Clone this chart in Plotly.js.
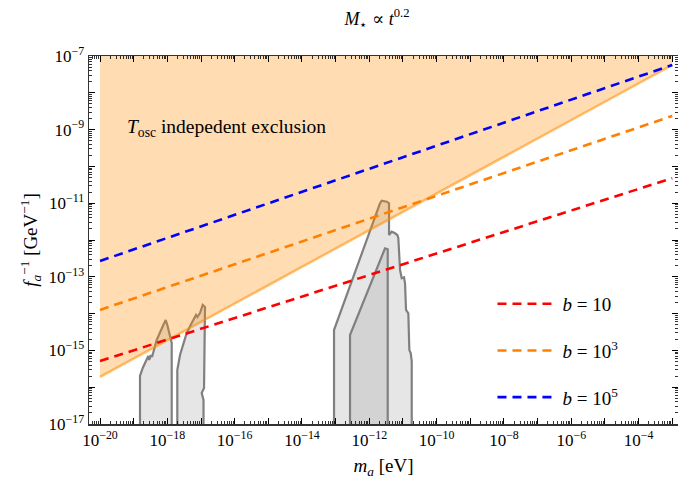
<!DOCTYPE html>
<html>
<head>
<meta charset="utf-8">
<script src="https://cdn.plot.ly/plotly-3.0.1.min.js"></script>
<style>html,body{margin:0;padding:0;background:#fff;}#plot{width:678px;height:489px;}</style>
</head>
<body>
<div id="plot"></div>
<script>
// ---- data (log10 values) ----
var massEnds = [-20, -3];                 // log10 m_a [eV] of line ends
var lineB10 = [-15.29, -10.32];           // log10 f_a^-1, b = 10
var lineB1e3 = [-13.90, -8.63];           // b = 10^3
var lineB1e5 = [-12.57, -7.245];          // b = 10^5
var exclEdge = [-15.72, -7.245];          // T_osc independent exclusion boundary

// gray constraint regions (log10 m_a, log10 f_a^-1)
var regAx = [-18.812,-18.812,-18.731,-18.613,-18.565,-18.535,-18.494,-18.455,-18.316,-18.119,-18.048,-18.001,-17.870,-17.870];
var regAy = [-17.5,-15.696,-15.478,-15.207,-15.152,-15.261,-15.125,-15.179,-14.717,-14.310,-14.174,-14.310,-14.799,-17.5];
var regBx = [-17.704,-17.704,-17.623,-17.424,-17.276,-17.148,-17.109,-17.029,-16.949,-16.881,-16.910,-16.979,-16.925,-16.925];
var regBy = [-17.5,-15.533,-15.125,-14.527,-14.255,-14.038,-14.092,-13.984,-13.766,-13.821,-16.022,-16.158,-16.348,-17.5];
var regCx = [-13.048,-13.048,-11.682,-11.631,-11.483,-11.414,-11.414,-11.334,-11.236,-11.167,-11.138,-11.087,-11.037,-10.969,-10.939,-10.909,-10.841,-10.811,-10.769,-10.740,-10.740];
var regCy = [-17.5,-14.446,-11.003,-10.932,-10.959,-11.003,-11.864,-11.774,-11.818,-11.864,-11.954,-12.815,-13.041,-13.014,-13.177,-13.902,-13.992,-14.989,-15.079,-15.3,-17.5];
var regDx = [-12.573,-12.573,-11.533,-11.453,-11.453];
var regDy = [-17.5,-14.582,-12.226,-12.253,-17.5];

var xDecades = [-20,-19,-18,-17,-16,-15,-14,-13,-12,-11,-10,-9,-8,-7,-6,-5,-4,-3];
var xTickLabeled = [-20,-18,-16,-14,-12,-10,-8,-6,-4];
var yDecades = [-17,-16,-15,-14,-13,-12,-11,-10,-9,-8,-7];
var yTickLabeled = [-17,-15,-13,-11,-9,-7];

// ---- helpers ----
function p10(a){ return a.map(function(v){ return Math.pow(10, v); }); }
function lab(e){ return '10<sup>' + (e < 0 ? '\u2212' + (-e) : e) + '</sup>'; }

var serif = 'Liberation Serif, DejaVu Serif, serif';
var grayLine = {color:'#808080', width:2.2};

var traces = [];
function region(xs, ys, fill){
  traces.push({x:p10(xs), y:p10(ys), mode:'lines', fill:'toself', fillcolor:fill,
    line:grayLine, showlegend:false, hoverinfo:'skip'});
}
region(regAx, regAy, '#e6e6e6');
region(regBx, regBy, '#e6e6e6');
region(regCx, regCy, '#e6e6e6');
region(regDx, regDy, '#d3d3d3');

// exclusion fill (polygon above boundary)
traces.push({x:p10([massEnds[0], massEnds[1], massEnds[1], massEnds[0]]),
  y:p10([exclEdge[0], exclEdge[1], -6, -6]), mode:'none', fill:'toself',
  fillcolor:'rgba(255,140,0,0.3)', showlegend:false, hoverinfo:'skip'});
traces.push({x:p10(massEnds), y:p10(exclEdge), mode:'lines',
  line:{color:'rgba(255,140,0,0.55)', width:2.5}, showlegend:false, hoverinfo:'skip'});

function dashed(ys, color, name, grp){
  traces.push({x:p10(massEnds), y:p10(ys), mode:'lines', name:name, legendgroup:grp,
    line:{color:color, width:2.6, dash:'9px,6px'}});
}
dashed(lineB10, '#ff0000', '<i>b</i> = 10', 'a');
dashed(lineB1e3, '#ff8000', '<i>b</i> = 10<sup>3</sup>', 'b');
dashed(lineB1e5, '#0000ff', '<i>b</i> = 10<sup>5</sup>', 'c');

// invisible trace to carry the decade-tick overlay axes
traces.push({x:p10(massEnds), y:p10(exclEdge), xaxis:'x2', yaxis:'y2', mode:'lines',
  line:{width:0, color:'rgba(0,0,0,0)'}, showlegend:false, hoverinfo:'skip'});

var axisCommon = {
  type:'log', showgrid:false, zeroline:false, showline:true, linecolor:'#333', linewidth:1.5,
  mirror:'allticks', ticks:'inside', ticklen:6, tickwidth:1, tickcolor:'#000',
  tickmode:'array', tickfont:{family:serif, size:17, color:'#000'},
  minor:{ticks:'inside', ticklen:3, tickwidth:0.8, tickcolor:'#000', dtick:'D1', showgrid:false}
};
var overlayCommon = {
  type:'log', showgrid:false, zeroline:false, showline:false, mirror:'ticks',
  ticks:'inside', ticklen:6, tickwidth:1, tickcolor:'#000', tickmode:'array', showticklabels:false
};

var layout = {
  width:678, height:489,
  margin:{l:89, r:0, t:56, b:65},
  paper_bgcolor:'#fff', plot_bgcolor:'#fff',
  title:{text:'<i>M</i><sub>\u22c6</sub> \u221d <i>t</i><sup>0.2</sup>', font:{family:serif, size:18, color:'#000'},
    x:0.556, xref:'container', xanchor:'center', y:0.962, yref:'container', yanchor:'middle'},
  xaxis:Object.assign({}, axisCommon, {
    range:[-20.327, -2.83], tickvals:p10(xTickLabeled), ticktext:xTickLabeled.map(lab),
    title:{text:'<i>m</i><sub><i>a</i></sub> [eV]', font:{family:serif, size:19, color:'#000'}, standoff:10}
  }),
  yaxis:Object.assign({}, axisCommon, {
    range:[-17, -7], tickvals:p10(yTickLabeled), ticktext:yTickLabeled.map(lab),
    title:{text:'<i>f</i><sub><i>a</i></sub><sup>\u22121</sup> [GeV<sup>\u22121</sup>]', font:{family:serif, size:19, color:'#000'}, standoff:6}
  }),
  xaxis2:Object.assign({}, overlayCommon, {overlaying:'x', matches:'x', side:'bottom', anchor:'y2',
    range:[-20.327, -2.83], tickvals:p10(xDecades)}),
  yaxis2:Object.assign({}, overlayCommon, {overlaying:'y', matches:'y', side:'left', anchor:'x2',
    range:[-17, -7], tickvals:p10(yDecades)}),
  legend:{x:0.685, y:0.378, xanchor:'left', yanchor:'top', bgcolor:'rgba(0,0,0,0)',
    font:{family:serif, size:19, color:'#000'}, tracegroupgap:19, itemwidth:60},
  annotations:[{xref:'paper', yref:'paper', x:0.061, y:0.804, xanchor:'left', yanchor:'middle',
    text:'<i>T</i><sub>osc</sub> indepedent exclusion', showarrow:false,
    font:{family:serif, size:19.5, color:'#000'}}]
};

Plotly.newPlot('plot', traces, layout, {displayModeBar:false, staticPlot:true});
</script>
</body>
</html>
